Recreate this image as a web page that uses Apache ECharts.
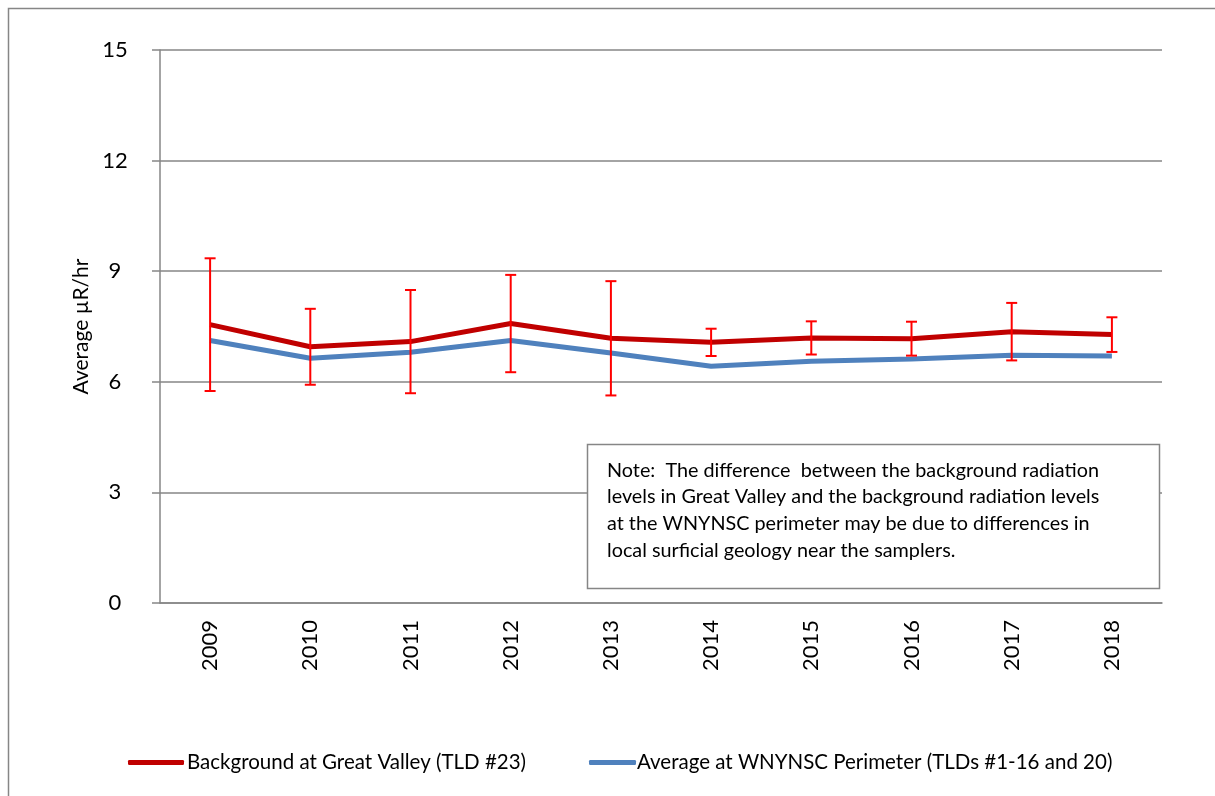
<!DOCTYPE html>
<html>
<head>
<meta charset="utf-8">
<script src="https://cdn.jsdelivr.net/npm/echarts@6/dist/echarts.min.js"></script>
<style>
  html, body { margin: 0; padding: 0; background: #fff; }
  #chart { width: 1215px; height: 796px; }
</style>
</head>
<body>
<div id="chart"></div>
<script>
var years = ['2009', '2010', '2011', '2012', '2013', '2014', '2015', '2016', '2017', '2018'];
// Background at Great Valley (TLD #23), mean and error bar half-width
var greatValley = [7.55, 6.95, 7.09, 7.58, 7.18, 7.07, 7.19, 7.17, 7.36, 7.28];
var greatValleyErr = [1.80, 1.03, 1.40, 1.32, 1.55, 0.37, 0.45, 0.46, 0.78, 0.47];
// Average at WNYNSC perimeter
var perimeter = [7.12, 6.64, 6.80, 7.12, 6.78, 6.42, 6.56, 6.62, 6.72, 6.70];
var yMin = 0, yMax = 15, yStep = 3;

var font = 'Lato';
var nameRed = 'Background at Great Valley (TLD #23)';
var nameBlue = 'Average at WNYNSC Perimeter (TLDs #1-16 and 20)';

var errData = years.map(function (y, i) {
    return [i, greatValley[i] - greatValleyErr[i], greatValley[i] + greatValleyErr[i]];
});

var chart = echarts.init(document.getElementById('chart'));
var option = {
    animation: false,
    textStyle: { fontFamily: font },
    grid: { left: 160, right: 53, top: 50, bottom: 193 },
    legend: [{
        left: 123, top: 747,
        itemWidth: 56, itemHeight: 5, itemGap: 0,
        icon: 'roundRect',
        textStyle: { fontSize: 20.5, color: '#000', fontFamily: font, padding: [0, 0, 0, -2] },
        data: [nameRed]
    }, {
        left: 584, top: 747,
        itemWidth: 47, itemHeight: 5,
        icon: 'roundRect',
        textStyle: { fontSize: 20.5, color: '#000', fontFamily: font, padding: [0, 0, 0, -4] },
        data: [nameBlue]
    }],
    xAxis: {
        type: 'category',
        data: years,
        boundaryGap: true,
        axisLine: { lineStyle: { color: '#868686', width: 1.5 } },
        axisTick: { show: false },
        axisLabel: { rotate: 90, fontSize: 22, color: '#000', margin: 17, fontFamily: font }
    },
    yAxis: {
        type: 'value',
        min: yMin, max: yMax, interval: yStep,
        name: 'Average µR/hr',
        nameLocation: 'middle',
        nameGap: 68,
        nameTextStyle: { fontSize: 21, color: '#000', fontFamily: font },
        axisLine: { show: true, lineStyle: { color: '#868686', width: 1.5 } },
        axisTick: { show: true, length: 8, lineStyle: { color: '#868686', width: 1.5 } },
        axisLabel: { fontSize: 22, color: '#000', margin: 45, align: 'center', fontFamily: font },
        splitLine: { lineStyle: { color: '#868686', width: 1.5 } }
    },
    series: [{
        name: nameBlue,
        type: 'line',
        data: perimeter,
        symbol: 'none',
        lineStyle: { color: '#4f81bd', width: 5 },
        itemStyle: { color: '#4f81bd' },
        z: 2
    }, {
        name: nameRed,
        type: 'line',
        data: greatValley,
        symbol: 'none',
        lineStyle: { color: '#c00000', width: 5 },
        itemStyle: { color: '#c00000' },
        z: 3
    }, {
        type: 'custom',
        data: errData,
        z: 4,
        renderItem: function (params, api) {
            var i = api.value(0);
            var lo = api.coord([i, api.value(1)]);
            var hi = api.coord([i, api.value(2)]);
            var w = 5.5;
            var st = { stroke: '#ff0000', lineWidth: 2 };
            return {
                type: 'group',
                children: [
                    { type: 'line', shape: { x1: hi[0], y1: hi[1], x2: lo[0], y2: lo[1] }, style: st },
                    { type: 'line', shape: { x1: hi[0] - w, y1: hi[1], x2: hi[0] + w, y2: hi[1] }, style: st },
                    { type: 'line', shape: { x1: lo[0] - w, y1: lo[1], x2: lo[0] + w, y2: lo[1] }, style: st }
                ]
            };
        }
    }],
    graphic: [{
        type: 'rect',
        shape: { x: 8.5, y: 8.5, width: 1300, height: 1000 },
        style: { fill: 'none', stroke: '#868686', lineWidth: 1.5 },
        silent: true
    }, {
        type: 'rect',
        shape: { x: 587.5, y: 444.5, width: 572, height: 144 },
        style: { fill: '#fff', stroke: '#868686', lineWidth: 1.5 },
        z: 100
    }, {
        type: 'text',
        left: 607, top: 457,
        z: 101,
        style: {
            text: 'Note:  The difference  between the background radiation\nlevels in Great Valley and the background radiation levels\nat the WNYNSC perimeter may be due to differences in\nlocal surficial geology near the samplers.',
            font: '19.8px ' + font,
            lineHeight: 26.7,
            fill: '#000'
        }
    }]
};
chart.setOption(option);
</script>
</body>
</html>
